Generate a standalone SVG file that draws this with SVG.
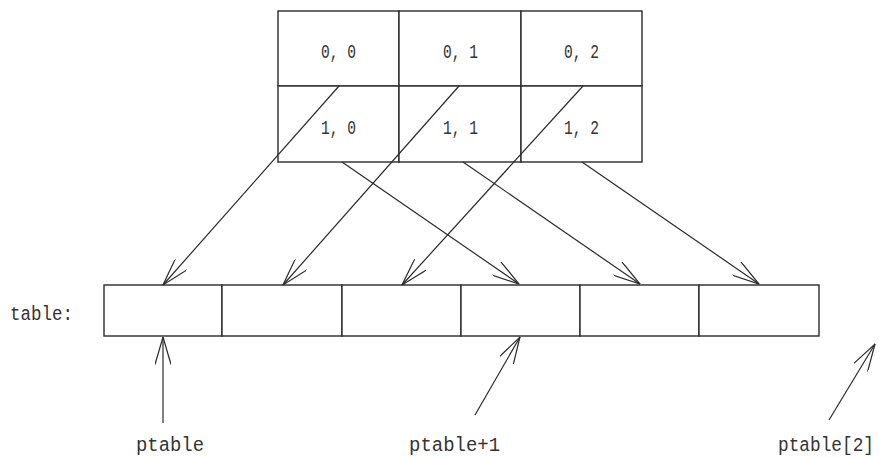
<svg xmlns="http://www.w3.org/2000/svg" width="886" height="458" viewBox="0 0 886 458">
<style>
.cell{fill:#fff;stroke:#2a2a2a;stroke-width:1.4}
.t{font-family:"Liberation Mono","DejaVu Sans Mono",monospace;font-size:20px;fill:#333}
.c{font-family:"Liberation Mono","DejaVu Sans Mono",monospace;font-size:21px;fill:#333}
.a{stroke:#2a2a2a;stroke-width:1.2;fill:none;marker-end:url(#ah)}
</style>
<defs>
<marker id="ah" viewBox="0 0 28 16" refX="27.5" refY="8" markerWidth="28" markerHeight="16" markerUnits="userSpaceOnUse" orient="auto">
<path d="M0,0 L27.5,8 L0,16" fill="none" stroke="#2a2a2a" stroke-width="1.2"/>
</marker>
</defs>
<rect width="886" height="458" fill="#fff"/>
<g id="grid">
<g id="c00"><rect class="cell" x="278" y="11" width="121" height="75"/><text class="c" x="321" y="58" textLength="35" lengthAdjust="spacingAndGlyphs">0, 0</text></g>
<g id="c01"><rect class="cell" x="399" y="11" width="122" height="75"/><text class="c" x="443" y="58" textLength="35" lengthAdjust="spacingAndGlyphs">0, 1</text></g>
<g id="c02"><rect class="cell" x="521" y="11" width="121" height="75"/><text class="c" x="564" y="58" textLength="35" lengthAdjust="spacingAndGlyphs">0, 2</text></g>
<g id="c10"><rect class="cell" x="278" y="86" width="121" height="76"/><text class="c" x="321" y="134" textLength="35" lengthAdjust="spacingAndGlyphs">1, 0</text></g>
<g id="c11"><rect class="cell" x="399" y="86" width="122" height="76"/><text class="c" x="443" y="134" textLength="35" lengthAdjust="spacingAndGlyphs">1, 1</text></g>
<g id="c12"><rect class="cell" x="521" y="86" width="121" height="76"/><text class="c" x="564" y="134" textLength="35" lengthAdjust="spacingAndGlyphs">1, 2</text></g>
</g>
<g id="table">
<text class="t" x="10" y="320" textLength="63" lengthAdjust="spacingAndGlyphs">table:</text>
<g id="t0"><rect class="cell" x="104" y="285" width="118" height="51"/></g>
<g id="t1"><rect class="cell" x="222" y="285" width="120" height="51"/></g>
<g id="t2"><rect class="cell" x="342" y="285" width="119" height="51"/></g>
<g id="t3"><rect class="cell" x="461" y="285" width="119" height="51"/></g>
<g id="t4"><rect class="cell" x="580" y="285" width="119" height="51"/></g>
<g id="t5"><rect class="cell" x="699" y="285" width="120" height="51"/></g>
</g>
<g id="connectors">
<line class="a" x1="339" y1="86" x2="163" y2="285"/>
<line class="a" x1="459" y1="86" x2="283" y2="285"/>
<line class="a" x1="583" y1="86" x2="402" y2="285"/>
<line class="a" x1="342" y1="162" x2="519" y2="284"/>
<line class="a" x1="463" y1="162" x2="640" y2="284"/>
<line class="a" x1="582" y1="162" x2="759" y2="284"/>
<line class="a" x1="163" y1="423" x2="163" y2="337"/>
<line class="a" x1="475" y1="415" x2="520" y2="337"/>
<line class="a" x1="829" y1="420" x2="875" y2="344"/>
</g>
<g id="labels">
<text class="t" x="136" y="451" textLength="68" lengthAdjust="spacingAndGlyphs">ptable</text>
<text class="t" x="409" y="451" textLength="91" lengthAdjust="spacingAndGlyphs">ptable+1</text>
<text class="t" x="778" y="451" textLength="96" lengthAdjust="spacingAndGlyphs">ptable[2]</text>
</g>
</svg>
